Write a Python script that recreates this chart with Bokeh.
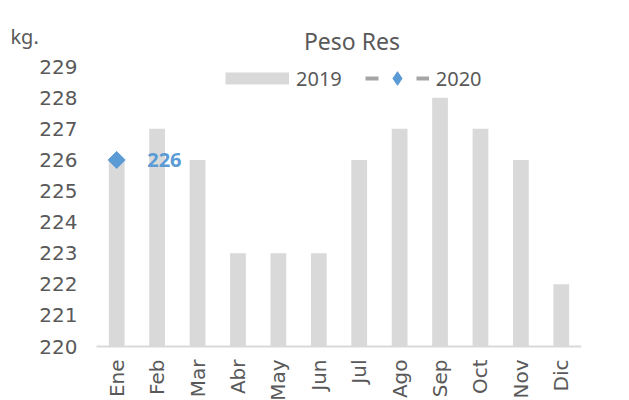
import math
from bokeh.plotting import figure
from bokeh.models import (ColumnDataSource, Range1d, Legend, LegendItem, FixedTicker, Label)
from bokeh.core.properties import value
from bokeh.embed import file_html
from bokeh.resources import INLINE

months = ["Ene", "Feb", "Mar", "Abr", "May", "Jun", "Jul", "Ago", "Sep", "Oct", "Nov", "Dic"]
peso_2019 = [226, 227, 226, 223, 223, 223, 226, 227, 228, 227, 226, 222]
months_2020 = ["Ene"]
peso_2020 = [226]
y_ticks = [220, 221, 222, 223, 224, 225, 226, 227, 228, 229]

TEXT = "#595959"
BAR = "#D9D9D9"
BLUE = "#5B9BD5"
LINEGRAY = "#A5A5A5"

n = len(months)
pos19 = list(range(n))
pos20 = [months.index(m) for m in months_2020]
nan = float("nan")

# the frame covers the whole canvas except a right margin; both axes are pinned inside it
PX_X = 40.42   # pixels per category
PX_Y = 31.09   # pixels per kg
p = figure(width=629, height=400,
           x_range=Range1d(-0.5 - 96 / PX_X, n - 0.5),
           y_range=Range1d(y_ticks[0] - 54 / PX_Y, y_ticks[0] + 346 / PX_Y),
           output_backend="svg", toolbar_location=None,
           min_border_left=0, min_border_right=48, min_border_top=0, min_border_bottom=0)
p.outline_line_color = None
p.grid.grid_line_color = None

src19 = ColumnDataSource(dict(x=pos19, top=peso_2019))
p.vbar(x="x", top="top", bottom=y_ticks[0], width=0.39, source=src19, fill_color=BAR, line_color=None)

src20 = ColumnDataSource(dict(x=pos20, y=peso_2020, label=[str(v) for v in peso_2020]))
l20 = p.line(x="x", y="y", source=src20, line_color=LINEGRAY, line_width=4, line_dash="13 38")
s20 = p.scatter(x="x", y="y", source=src20, marker="square", angle=math.pi / 4, size=12,
                fill_color=BLUE, line_color=BLUE)
p.text(x="x", y="y", text="label", source=src20, x_offset=30.5, text_baseline="middle",
       text_color=BLUE, text_font=value("Noto Sans"), text_font_style="bold", text_font_size="20px")

# legend-only renderers (no visible data)
sw19 = p.line(x=[nan], y=[nan], line_color=BAR, line_width=12)
sw20 = p.scatter(x=[nan], y=[nan], marker="diamond", fill_color=BLUE, line_color=BLUE)

p.yaxis.fixed_location = -0.5
p.yaxis.ticker = FixedTicker(ticks=y_ticks)
p.yaxis.axis_line_color = None
p.yaxis.major_tick_line_color = None
p.yaxis.minor_tick_line_color = None
p.yaxis.major_tick_out = 0
p.yaxis.major_tick_in = 0
p.yaxis.major_label_text_font = "DejaVu Sans"
p.yaxis.major_label_text_font_size = "20px"
p.yaxis.major_label_text_color = TEXT
p.yaxis.major_label_standoff = 19

p.xaxis.fixed_location = y_ticks[0]
p.xaxis.ticker = FixedTicker(ticks=pos19)
p.xaxis.major_label_overrides = {i: m for i, m in zip(pos19, months)}
p.xaxis.bounds = (-0.5, n - 0.5)
p.xaxis.axis_line_color = BAR
p.xaxis.axis_line_width = 2
p.xaxis.major_tick_line_color = None
p.xaxis.minor_tick_line_color = None
p.xaxis.major_tick_out = 0
p.xaxis.major_tick_in = 0
p.xaxis.major_label_orientation = math.pi / 2
p.xaxis.major_label_text_font = "DejaVu Sans"
p.xaxis.major_label_text_font_size = "20px"
p.xaxis.major_label_text_color = TEXT
p.xaxis.major_label_standoff = 13

legend = Legend(items=[LegendItem(label="2019", renderers=[sw19]),
                       LegendItem(label="2020", renderers=[l20, sw20])],
                orientation="horizontal", location=(225, 305),
                glyph_width=64, glyph_height=34, label_height=34, label_standoff=7, spacing=23,
                padding=0, margin=0, border_line_color=None, background_fill_alpha=0,
                label_text_font="Noto Sans", label_text_font_size="20px", label_text_color=TEXT)
p.add_layout(legend, "center")

p.add_layout(Label(x=5.82, y=229.83, text="Peso Res", text_align="center", text_baseline="alphabetic",
                   text_color=TEXT, text_font="Noto Sans", text_font_size="23px"))
p.add_layout(Label(x=-2.63, y=229.98, text="kg.", text_align="left", text_baseline="alphabetic",
                   text_color=TEXT, text_font="Noto Sans", text_font_size="20px"))

open("out.html", "w").write(file_html(p, INLINE))
